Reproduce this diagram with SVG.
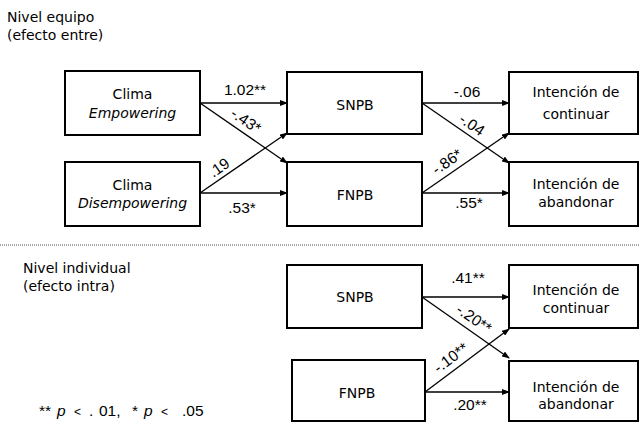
<svg xmlns="http://www.w3.org/2000/svg" width="639" height="423" viewBox="0 0 639 423">
<defs>
<marker id="ah" markerWidth="8" markerHeight="6" refX="7" refY="3" orient="auto" markerUnits="userSpaceOnUse">
<path d="M0,0 L8,3 L0,6 z" fill="#000"/>
</marker>
<style>
.box{fill:#fff;stroke:#000;stroke-width:2}
.t{font-family:"DejaVu Sans",Verdana,sans-serif;font-size:14px;fill:#000;text-anchor:middle}
.tl{font-family:"DejaVu Sans",Verdana,sans-serif;font-size:14px;fill:#000}
.c{font-family:"Liberation Sans",Arial,sans-serif;font-size:15.5px;fill:#000;text-anchor:middle}
.ln{stroke:#000;stroke-width:1.3;fill:none;marker-end:url(#ah)}
.note{font-family:"Liberation Sans",Arial,sans-serif;font-size:15.5px;fill:#000}
</style>
</defs>
<rect width="639" height="423" fill="#fff"/>

<g id="labels">
<text class="tl" x="7" y="22">Nivel equipo</text>
<text class="tl" x="7" y="40">(efecto entre)</text>
<text class="tl" x="23" y="273">Nivel individual</text>
<text class="tl" x="23" y="291">(efecto intra)</text>
<line x1="0" y1="245" x2="639" y2="245" stroke="#555" stroke-width="1" stroke-dasharray="1,1"/>
<text class="note" y="416"><tspan x="39">**</tspan><tspan x="57" font-style="italic">p</tspan><tspan x="74" font-size="12">&lt;</tspan><tspan x="89">.</tspan><tspan x="99">01,</tspan><tspan x="132">*</tspan><tspan x="144" font-style="italic">p</tspan><tspan x="161" font-size="12">&lt;</tspan><tspan x="182">.05</tspan></text>
</g>

<g id="connectors">
<line class="ln" x1="200" y1="103" x2="287" y2="103"/>
<line class="ln" x1="200" y1="103" x2="287" y2="163"/>
<line class="ln" x1="200" y1="193" x2="287" y2="133"/>
<line class="ln" x1="200" y1="193" x2="287" y2="193"/>
<line class="ln" x1="422" y1="103" x2="509" y2="103"/>
<line class="ln" x1="422" y1="103" x2="509" y2="163"/>
<line class="ln" x1="422" y1="193" x2="509" y2="133"/>
<line class="ln" x1="422" y1="193" x2="509" y2="193"/>
<line class="ln" x1="422" y1="297" x2="509" y2="297"/>
<line class="ln" x1="422" y1="297" x2="509" y2="358"/>
<line class="ln" x1="425" y1="392" x2="509" y2="329"/>
<line class="ln" x1="425" y1="392" x2="509" y2="392"/>
<text class="c" x="245" y="95">1.02**</text>
<text class="c" transform="translate(243,125) rotate(34.6)">-.43*</text>
<text class="c" transform="translate(222,172) rotate(-34.6)">.19</text>
<text class="c" x="242" y="213">.53*</text>
<text class="c" x="467" y="97">-.06</text>
<text class="c" transform="translate(469,129) rotate(34.6)">-.04</text>
<text class="c" transform="translate(450,166) rotate(-34.6)">-.86*</text>
<text class="c" x="469" y="208">.55*</text>
<text class="c" x="468" y="283">.41**</text>
<text class="c" transform="translate(471,323) rotate(35)">-.20**</text>
<text class="c" transform="translate(454,362) rotate(-36.9)">-.10**</text>
<text class="c" x="470" y="410">.20**</text>
</g>

<g id="clima-empowering">
<rect class="box" x="65" y="71" width="135" height="64"/>
<text class="t" x="132.5" y="99">Clima</text>
<text class="t" x="132.5" y="118" font-style="italic">Empowering</text>
</g>
<g id="clima-disempowering">
<rect class="box" x="65" y="162" width="135" height="64"/>
<text class="t" x="132.5" y="190">Clima</text>
<text class="t" x="132.5" y="208" font-style="italic">Disempowering</text>
</g>
<g id="snpb-top">
<rect class="box" x="287" y="72" width="135" height="62"/>
<text class="t" x="355" y="110">SNPB</text>
</g>
<g id="fnpb-top">
<rect class="box" x="287" y="162" width="135" height="64"/>
<text class="t" x="355" y="200">FNPB</text>
</g>
<g id="continuar-top">
<rect class="box" x="509" y="72" width="129" height="62"/>
<text class="t" x="576" y="97">Intención de</text>
<text class="t" x="576" y="119">continuar</text>
</g>
<g id="abandonar-top">
<rect class="box" x="509" y="162" width="129" height="64"/>
<text class="t" x="576" y="189">Intención de</text>
<text class="t" x="576" y="207">abandonar</text>
</g>
<g id="snpb-bottom">
<rect class="box" x="287" y="265" width="135" height="63"/>
<text class="t" x="355" y="302">SNPB</text>
</g>
<g id="fnpb-bottom">
<rect class="box" x="292" y="360" width="133" height="61"/>
<text class="t" x="357" y="398">FNPB</text>
</g>
<g id="continuar-bottom">
<rect class="box" x="509" y="265" width="129" height="63"/>
<text class="t" x="576" y="295">Intención de</text>
<text class="t" x="576" y="313">continuar</text>
</g>
<g id="abandonar-bottom">
<rect class="box" x="509" y="361" width="129" height="60"/>
<text class="t" x="576" y="392">Intención de</text>
<text class="t" x="576" y="409">abandonar</text>
</g>
</svg>
